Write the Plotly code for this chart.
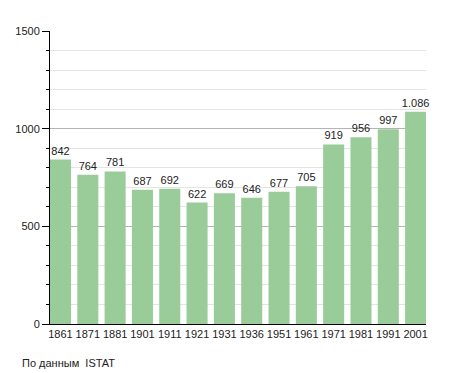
import plotly.graph_objects as go

years = ["1861", "1871", "1881", "1901", "1911", "1921", "1931", "1936", "1951", "1961", "1971", "1981", "1991", "2001"]
population = [842, 764, 781, 687, 692, 622, 669, 646, 677, 705, 919, 956, 997, 1086]
labels = ["842", "764", "781", "687", "692", "622", "669", "646", "677", "705", "919", "956", "997", "1.086"]
y_ticks = [0, 500, 1000, 1500]
source_note = "По данным  ISTAT"

idx = list(range(len(years)))
font = "Liberation Sans, Arial, sans-serif"

fig = go.Figure()
fig.add_trace(go.Bar(
    x=idx, y=population, text=labels, textposition="outside",
    textfont=dict(family=font, size=11, color="#222"),
    outsidetextfont=dict(family=font, size=11, color="#222"),
    constraintext="none",
    marker=dict(color="#99cc99", line=dict(width=0)),
    width=0.77, cliponaxis=False, hoverinfo="skip",
))

# page body has an 8px default margin, so the figure is offset by 8px
fig.update_layout(
    width=447, height=365,
    margin=dict(l=42, r=29, t=23, b=49),
    paper_bgcolor="white", plot_bgcolor="white",
    showlegend=False,
    font=dict(family=font, size=11, color="#222"),
    xaxis=dict(
        range=[-0.384, 13.38], tickvals=idx, ticktext=years,
        showgrid=False, zeroline=False, showline=True, linecolor="black",
        linewidth=1, ticks="", tickfont=dict(size=11), fixedrange=True,
        automargin=False,
    ),
    yaxis=dict(
        range=[0, 1500], tickvals=y_ticks, showgrid=True, gridcolor="#b4b4b4",
        gridwidth=1, zeroline=False, showline=True, linecolor="black", linewidth=1,
        ticks="outside", ticklen=7, tickcolor="black", tickfont=dict(size=11),
        automargin=False,
        minor=dict(dtick=100, showgrid=True, gridcolor="#e4e4e4", ticks="outside",
                   ticklen=3, tickcolor="black"),
    ),
    annotations=[dict(
        text=source_note, xref="paper", yref="paper", x=-30/376, y=-31/293,
        xanchor="left", yanchor="top", showarrow=False,
        font=dict(family=font, size=11, color="#222"),
    )],
)

fig.write_html("out.html")
